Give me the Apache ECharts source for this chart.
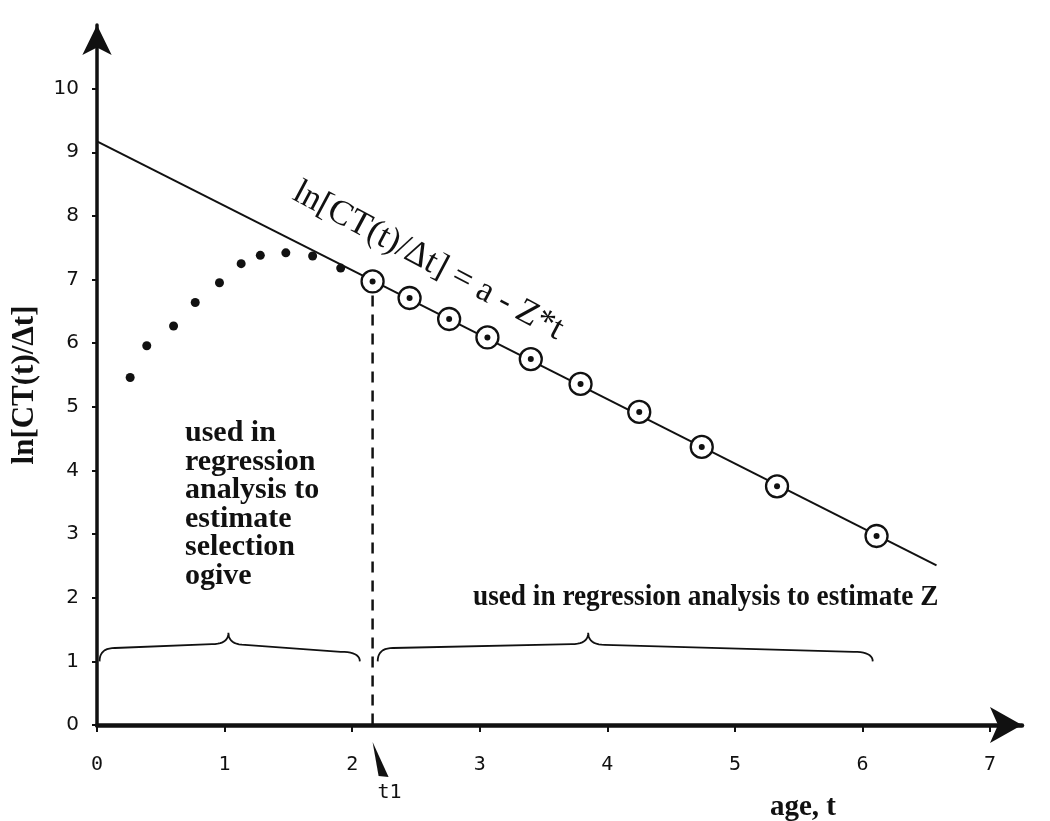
<!DOCTYPE html>
<html><head><meta charset="utf-8">
<script src="https://cdn.jsdelivr.net/npm/echarts@6/dist/echarts.min.js"></script>
<style>html,body{margin:0;padding:0;background:#fff}#c{width:1050px;height:821px}</style>
</head><body><div id="c"></div>
<script>
// ---- data ----
const xTicks = [0, 1, 2, 3, 4, 5, 6, 7];
const yTicks = [0, 1, 2, 3, 4, 5, 6, 7, 8, 9, 10];
// observations before full recruitment (not circled)
const earlyAges = [0.26, 0.39, 0.60, 0.77, 0.96, 1.13, 1.28, 1.48, 1.69, 1.91];
const earlyLnC  = [5.46, 5.96, 6.27, 6.64, 6.95, 7.25, 7.38, 7.42, 7.37, 7.18];
// observations used in regression (circled)
const usedAges = [2.16, 2.45, 2.76, 3.06, 3.40, 3.79, 4.25, 4.74, 5.33, 6.11];
const usedLnC  = [6.97, 6.71, 6.38, 6.09, 5.75, 5.36, 4.92, 4.37, 3.75, 2.97];
// fitted regression line ln[CT(t)/dt] = a - Z*t
const regAges = [0, 6.58];
const regLnC  = [9.17, 2.51];
// t1 split
const t1 = 2.16;
const t1LineLnC = [6.75, 0];
// brace spans (age units)
const braceFrom = [0.02, 2.20];
const bracePeak = [1.03, 3.85];
const braceTo   = [2.06, 6.08];

const ink = '#111111';
const chart = echarts.init(document.getElementById('c'), null, {renderer: 'canvas'});

function quad(p0, c, p1, n) {
  const pts = [];
  for (let i = 0; i <= n; i++) {
    const s = i / n, u = 1 - s;
    pts.push([u*u*p0[0] + 2*u*s*c[0] + s*s*p1[0], u*u*p0[1] + 2*u*s*c[1] + s*s*p1[1]]);
  }
  return pts;
}

const option = {
  animation: false,
  backgroundColor: '#fff',
  grid: {left: 97, right: 28, top: 25, bottom: 96},
  xAxis: {
    type: 'value', min: 0, max: 7.25, interval: 1,
    splitLine: {show: false},
    axisLine: {onZero: false, lineStyle: {color: ink, width: 4.5}, symbol: ['none', 'arrow'], symbolSize: [27, 32]},
    axisTick: {customValues: xTicks, length: 7, lineStyle: {color: ink, width: 2}},
    axisLabel: {customValues: xTicks, margin: 30, color: ink, fontSize: 20, fontFamily: '"DejaVu Sans Mono", monospace'}
  },
  yAxis: {
    type: 'value', min: 0, max: 11, interval: 1,
    splitLine: {show: false},
    axisLine: {onZero: false, lineStyle: {color: ink, width: 3.5}, symbol: ['none', 'arrow'], symbolSize: [22, 30]},
    axisTick: {customValues: yTicks, length: 5, lineStyle: {color: ink, width: 2}},
    axisLabel: {customValues: yTicks, margin: 18, color: ink, fontSize: 20, fontWeight: 500, fontFamily: '"DejaVu Sans", sans-serif'}
  },
  series: [
    {
      type: 'line', name: 'regression',
      data: regAges.map((t, i) => [t, regLnC[i]]),
      showSymbol: false, lineStyle: {color: ink, width: 2}, z: 2
    },
    {
      type: 'line', name: 't1',
      data: t1LineLnC.map(v => [t1, v]),
      showSymbol: false, lineStyle: {color: ink, width: 2.5, type: [11, 8]}, z: 2
    },
    {
      type: 'scatter', name: 'early',
      data: earlyAges.map((t, i) => [t, earlyLnC[i]]),
      symbolSize: 9, itemStyle: {color: ink, opacity: 1}, z: 3
    },
    {
      type: 'scatter', name: 'used ring',
      data: usedAges.map((t, i) => [t, usedLnC[i]]),
      symbolSize: 22, itemStyle: {color: '#fff', borderColor: ink, borderWidth: 2.3, opacity: 1}, z: 4
    },
    {
      type: 'scatter', name: 'used',
      data: usedAges.map((t, i) => [t, usedLnC[i]]),
      symbolSize: 6, itemStyle: {color: ink, opacity: 1}, z: 5
    },
    {
      type: 'custom', name: 'braces',
      data: braceFrom.map((f, i) => [f, bracePeak[i], braceTo[i], 1.2]),
      encode: {x: [0, 1, 2], y: 3},
      renderItem: function (params, api) {
        const P = (t, v) => api.coord([t, v]);
        const from = api.value(0), pk = api.value(1), to = api.value(2);
        const s = P(from, 1.0), a = P(from + 0.12, 1.21), b = P(pk - 0.13, 1.27),
              k = P(pk, 1.45), c = P(pk + 0.13, 1.26), d = P(to - 0.15, 1.15), e = P(to, 1.0);
        let pts = [];
        pts = pts.concat(quad(s, [s[0], a[1]], a, 10));
        pts = pts.concat(quad(b, [k[0], b[1]], k, 10));
        pts = pts.concat(quad(k, [k[0], c[1]], c, 10));
        pts = pts.concat(quad(d, [e[0], d[1]], e, 10));
        return {type: 'polyline', shape: {points: pts}, style: {fill: null, stroke: ink, lineWidth: 1.8}};
      },
      z: 2
    },
    {
      type: 'custom', name: 't1 marker',
      data: [[t1, 0]],
      renderItem: function (params, api) {
        const p = api.coord([api.value(0), api.value(1)]);
        return {
          type: 'group',
          children: [
            {type: 'polygon', shape: {points: [[p[0], p[1] + 17], [p[0] + 6, p[1] + 51], [p[0] + 16, p[1] + 52]]}, style: {fill: ink}},
            {type: 'text', style: {text: 't1', x: p[0] + 17, y: p[1] + 68, fill: ink, font: '20px "DejaVu Sans Mono", monospace', align: 'center', verticalAlign: 'middle'}}
          ]
        };
      },
      z: 2
    }
  ],
  graphic: [
    {type: 'text', x: 25, y: 385, rotation: Math.PI / 2,
     style: {text: 'ln[CT(t)/Δt]', font: 'bold 31px "Liberation Serif", serif', fill: ink, align: 'center', verticalAlign: 'middle'}},
    {type: 'text', x: 428, y: 261, rotation: -28 * Math.PI / 180,
     style: {text: 'ln[CT(t)/Δt] = a - Z*t', font: '35px "Liberation Serif", serif', fill: ink, align: 'center', verticalAlign: 'middle'}},
    {type: 'text', x: 185, y: 419,
     style: {text: 'used in\nregression\nanalysis to\nestimate\nselection\nogive', font: 'bold 30px "Liberation Serif", serif', lineHeight: 28.5, fill: ink, align: 'left', verticalAlign: 'top'}},
    {type: 'text', x: 473, y: 598, scaleX: 0.94,
     style: {text: 'used in regression analysis to estimate Z', font: 'bold 29px "Liberation Serif", serif', fill: ink, align: 'left', verticalAlign: 'middle'}},
    {type: 'text', x: 803, y: 808,
     style: {text: 'age, t', font: 'bold 29px "Liberation Serif", serif', fill: ink, align: 'center', verticalAlign: 'middle'}}
  ]
};
chart.setOption(option);
</script>
</body></html>
